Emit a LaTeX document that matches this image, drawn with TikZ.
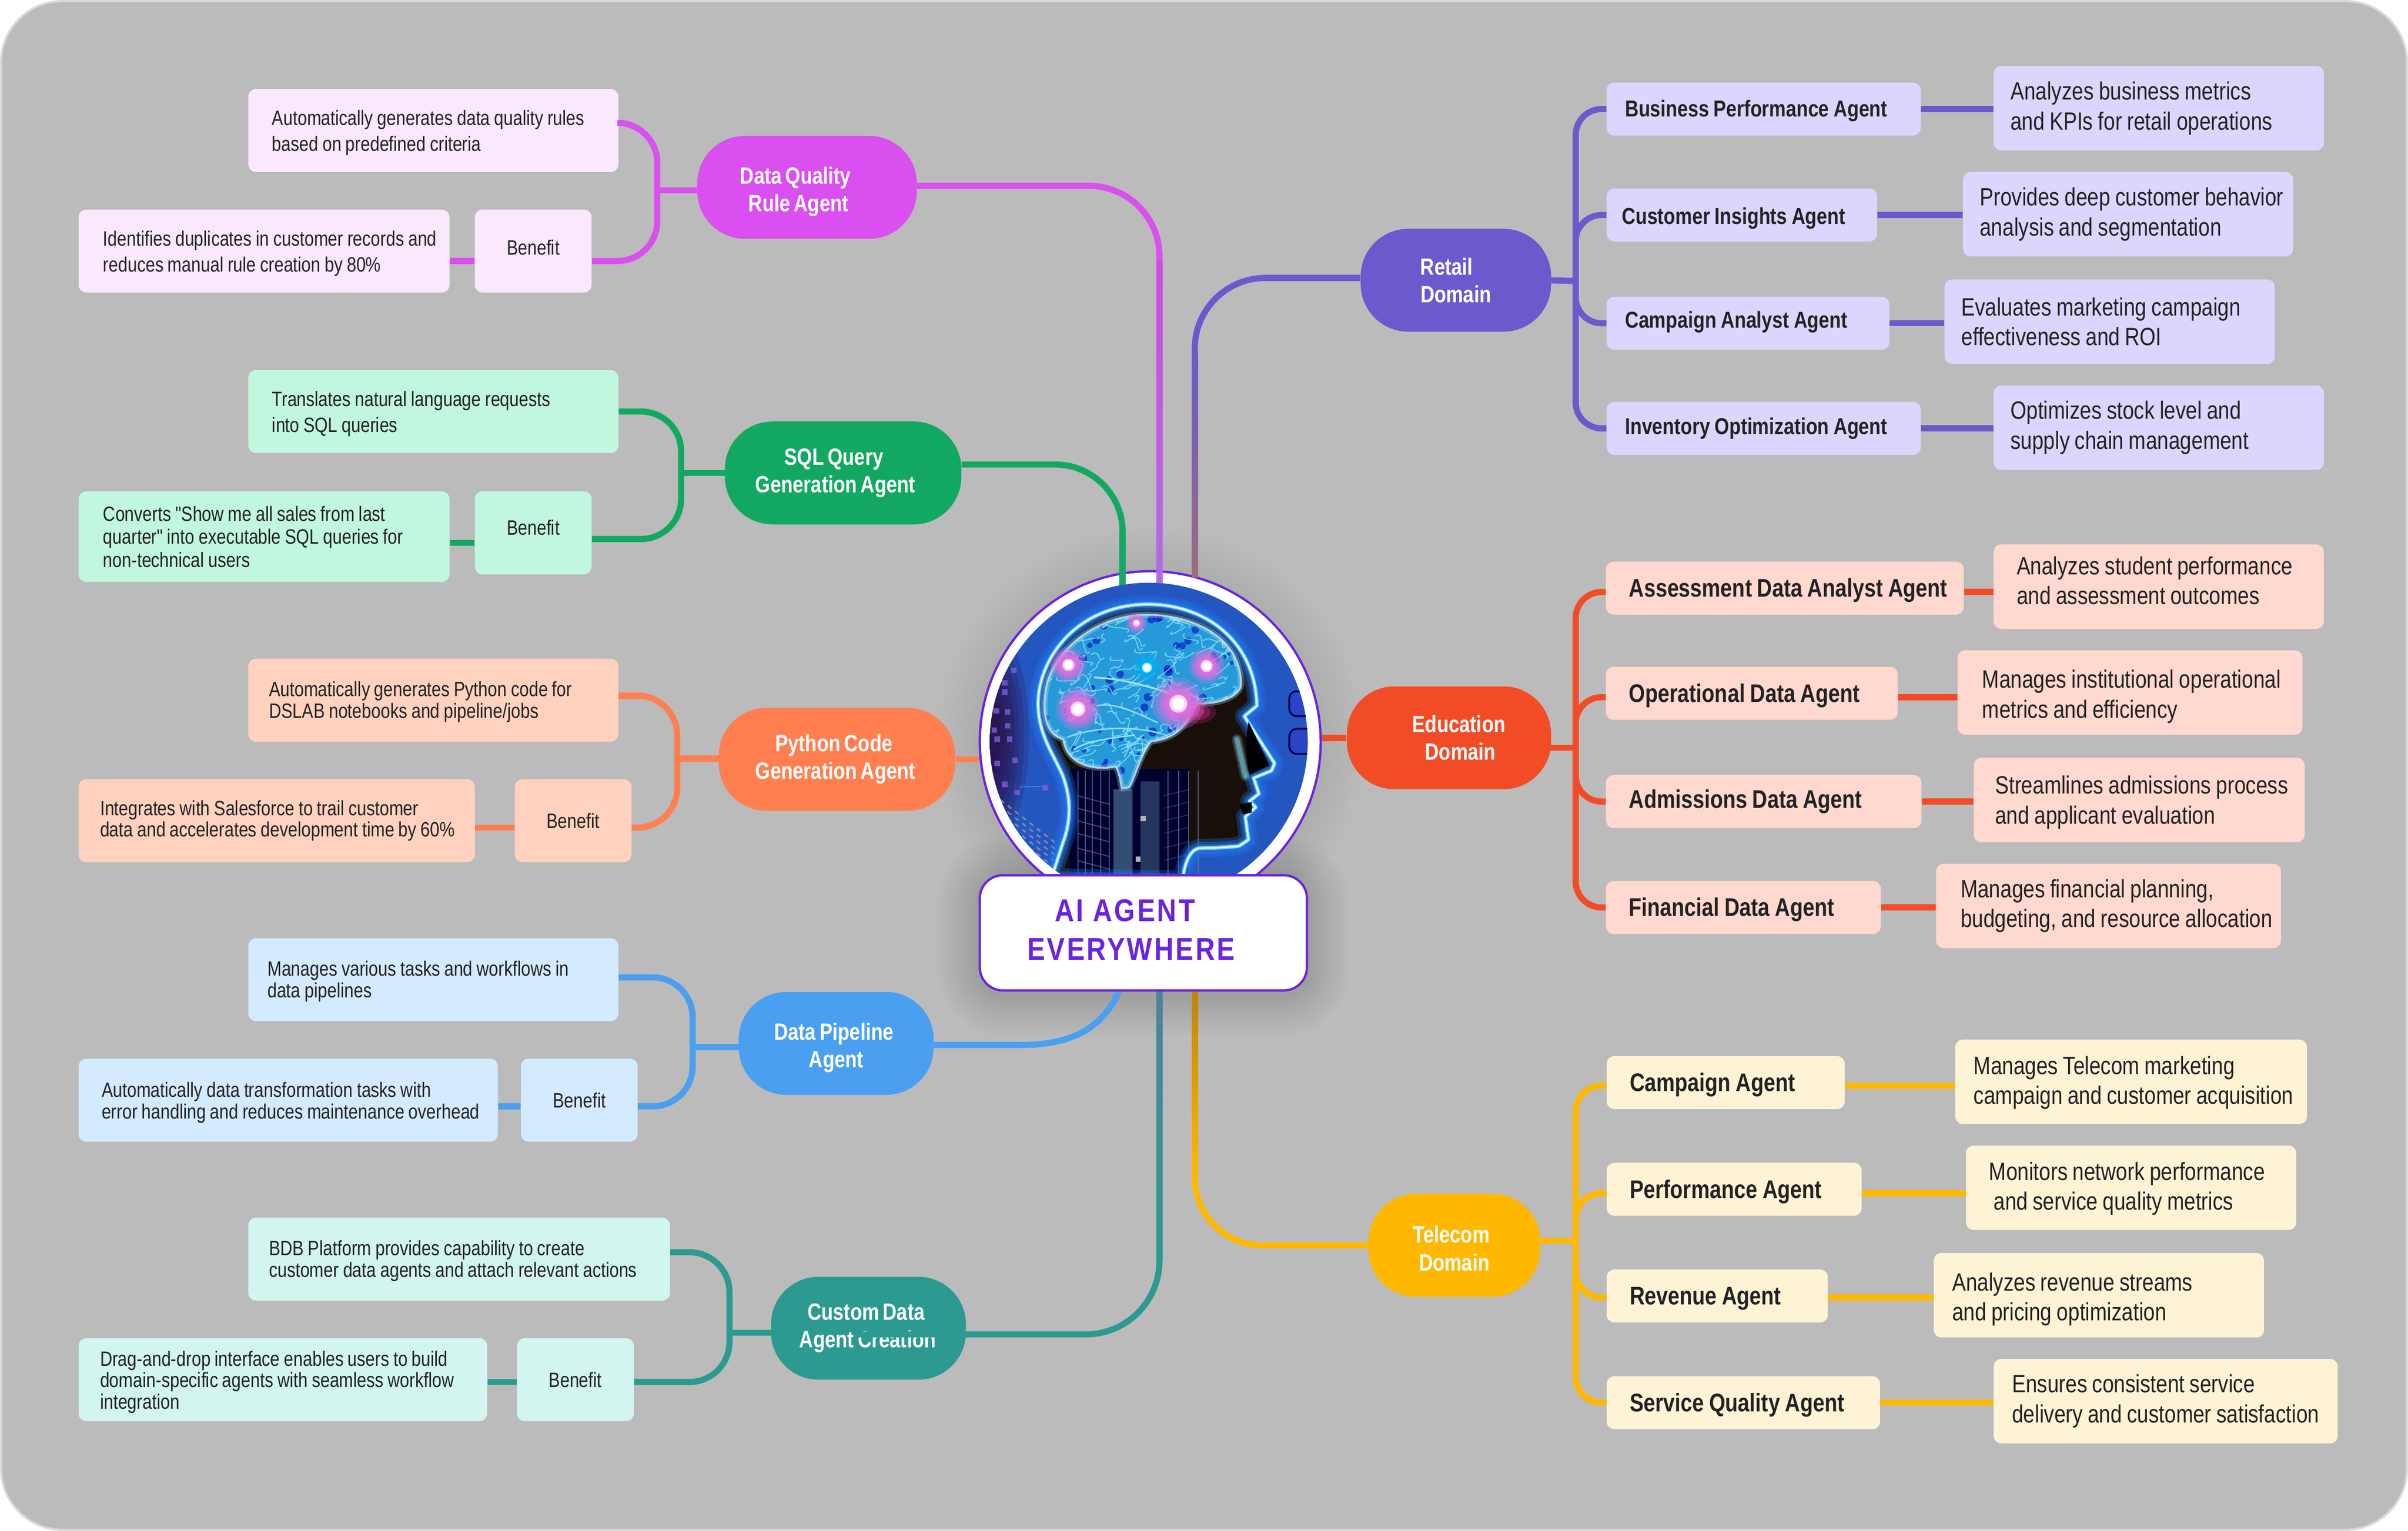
\documentclass[tikz,border=0pt]{standalone}
\usepackage{fontspec}
\newfontfamily\condfont[FakeStretch=0.82,WordSpace=0.7]{Liberation Sans}
\newfontfamily\titlefont[FakeStretch=0.85,LetterSpace=6.5]{Liberation Sans}
\newcommand{\pushdown}[1]{\mbox{}\\[-#1]}
\newcommand{\topgap}[1]{\rule{0pt}{#1}}
\newcommand{\botgap}[1]{\rule[-#1]{0pt}{1pt}}
\definecolor{canvasgray}{HTML}{BBBBBB}
\definecolor{edgegray}{HTML}{D9D9D9}
\definecolor{rootviolet}{HTML}{6A24DE}
\definecolor{inkdark}{HTML}{222222}
\definecolor{retailcol}{HTML}{6A5ACD}
\definecolor{retaillight}{HTML}{DCD6FF}
\definecolor{educol}{HTML}{F24C27}
\definecolor{edulight}{HTML}{FFD8CF}
\definecolor{telecol}{HTML}{FFB800}
\definecolor{telelight}{HTML}{FFF3D6}
\definecolor{dqcol}{HTML}{D94FEF}
\definecolor{dqlight}{HTML}{FAE8FF}
\definecolor{sqlcol}{HTML}{13A862}
\definecolor{sqllight}{HTML}{C1F7DF}
\definecolor{pycol}{HTML}{FF7F50}
\definecolor{pylight}{HTML}{FFD2BF}
\definecolor{pipecol}{HTML}{4A9FF0}
\definecolor{pipelight}{HTML}{D4EAFF}
\definecolor{customcol}{HTML}{2C9A90}
\definecolor{customlight}{HTML}{D2F5F0}
\definecolor{glowblue}{HTML}{1E78F0}
\definecolor{glowcyan}{HTML}{8FE8FF}
\definecolor{glowpink}{HTML}{E070E0}
\definecolor{neckblue}{HTML}{3D5A80}
\definecolor{brainbright}{HTML}{2456C0}
\definecolor{brainrim}{HTML}{1E2038}
\pgfdeclareradialshading{brainback}{\pgfpointorigin}{color(0bp)=(brainbright);color(37bp)=(brainbright);color(45bp)=(brainbright!25!brainrim);color(50bp)=(brainrim)}
\tikzset{
  hub/.style n args={2}{rounded corners=31pt,fill=#1,minimum width=#2,minimum height=67pt,inner sep=0pt,
    text=white,align=center,font=\condfont\bfseries\fontsize{15.3}{18}\selectfont},
  card/.style n args={4}{anchor=west,fill=#1,rounded corners=5pt,text width=#2,minimum height=#3,inner xsep=0pt,inner ysep=0pt,
    text=inkdark,align=left,execute at begin node={\leftskip=#4\spaceskip=.2em\relax}},
  boldsmall/.style={font=\condfont\bfseries\fontsize{15}{19}\selectfont},
  boldfont/.style={font=\condfont\bfseries\fontsize{16.6}{19}\selectfont},
  descfont/.style={font=\condfont\fontsize{16.3}{19.5}\selectfont},
  smallfont/.style={font=\condfont\fontsize{13.5}{16.8}\selectfont},
  tightfont/.style={font=\condfont\fontsize{13.5}{14}\selectfont},
  benefitbox/.style n args={2}{anchor=west,fill=#1,rounded corners=5pt,minimum width=#2,minimum height=54pt,inner sep=0pt,
    text=inkdark,font=\condfont\fontsize{13.5}{15}\selectfont},
  link/.style={draw=#1,line width=4pt},
  brainline/.style={line cap=round,line join=round}
}
\begin{document}
\begin{tikzpicture}[x=1pt,y=-1pt]
\useasboundingbox (0,0) rectangle (1568,997);
\fill[white] (0,0) rectangle (1568,997);
\draw[fill=canvasgray,draw=edgegray,line width=1.4pt,rounded corners=40pt] (.7,.7) rectangle (1567.3,996.3);

% soft shadow of the centre
\foreach \s in {2,4,...,28}{
  \fill[black,opacity=.007,rounded corners=16pt+\s] (638-\s,572-\s) rectangle (851+\s,647+\s);
  \fill[black,opacity=.003] (749,483) circle (111+\s);
}

\node[circle,fill=white,draw=rootviolet,line width=1.5pt,minimum size=222pt,inner sep=0pt] (brain) at (749,483) {};

% hubs
\node[hub={retailcol}{124pt}] (retail) at (948,182.5) {Retail\hspace*{12pt}\\Domain};
\node[hub={educol}{133pt}] (edu) at (943.5,480.5) {\hspace*{13pt}Education\\\hspace*{15pt}Domain};
\node[hub={telecol}{112pt}] (tele) at (947,811) {\pushdown{3pt}\mbox{Telecom\hspace{4pt}}\\Domain};
\node[hub={dqcol}{143pt}] (dq) at (525.5,122) {\pushdown{1pt}\mbox{Data Quality\hspace{15pt}}\\\mbox{Rule Agent\hspace{11pt}}};
\node[hub={sqlcol}{154pt}] (sql) at (549,308) {SQL Query\hspace*{12pt}\\Generation Agent\hspace*{10pt}};
\node[hub={pycol}{154pt}] (py) at (545,494.5) {Python Code\hspace*{4pt}\\Generation Agent\hspace*{2pt}};
\node[hub={pipecol}{127pt}] (pipe) at (544.5,679.5) {\pushdown{1pt}\mbox{Data Pipeline\hspace{3pt}}\\Agent};
\node[hub={customcol}{127pt}] (custom) at (565.5,865) {Custom Data\hspace*{3pt}\\Agent Creation\hspace*{1pt}};

% retail
\node[card={retaillight}{204.5pt}{34.5pt}{12pt},boldsmall] (bpa) at (1046,71) {\topgap{13pt}Business Performance Agent};
\node[card={retaillight}{176pt}{34.5pt}{10pt},boldsmall] (cia) at (1046,140) {\topgap{15pt}Customer Insights Agent};
\node[card={retaillight}{184pt}{34.5pt}{12pt},boldsmall] (caa) at (1046,210.5) {Campaign Analyst Agent\botgap{5pt}};
\node[card={retaillight}{204.5pt}{34.5pt}{12pt},boldsmall] (ioa) at (1046,279) {Inventory Optimization Agent};
\node[card={retaillight}{215pt}{55pt}{11pt},descfont] (bpad) at (1298,70.5) {Analyzes business metrics\\and KPIs for retail operations};
\node[card={retaillight}{215pt}{55pt}{11pt},descfont] (ciad) at (1278,139.5) {Provides deep customer behavior\\analysis and segmentation};
\node[card={retaillight}{215pt}{55pt}{11pt},descfont] (caad) at (1266,209.5) {Evaluates marketing campaign\\effectiveness and ROI};
\node[card={retaillight}{215pt}{55pt}{11pt},descfont] (ioad) at (1298,278.5) {Optimizes stock level and\\supply chain management};

% education
\node[card={edulight}{233pt}{34.5pt}{15pt},boldfont] (aad) at (1045.5,383) {\topgap{15pt}Assessment Data Analyst Agent};
\node[card={edulight}{190pt}{34.5pt}{15pt},boldfont] (oda) at (1045.5,451.5) {\topgap{15pt}Operational Data Agent};
\node[card={edulight}{205.5pt}{34.5pt}{15pt},boldfont] (ada) at (1045.5,522) {Admissions Data Agent};
\node[card={edulight}{179pt}{34.5pt}{15pt},boldfont] (fda) at (1045.5,591) {\topgap{15pt}Financial Data Agent};
\node[card={edulight}{215pt}{55pt}{15pt},descfont] (aadd) at (1298,382) {Analyzes student performance\\and assessment outcomes\botgap{8pt}};
\node[card={edulight}{224.5pt}{55pt}{16pt},descfont] (odad) at (1274.5,451) {\topgap{17pt}Manages institutional operational\\metrics and efficiency};
\node[card={edulight}{215.5pt}{55pt}{14pt},descfont] (adad) at (1285,521) {\topgap{15pt}Streamlines admissions process\\and applicant evaluation};
\node[card={edulight}{224.5pt}{55pt}{16pt},descfont] (fdad) at (1260.5,590) {Manages financial planning,\\budgeting, and resource allocation};

% telecom
\node[card={telelight}{155pt}{34.5pt}{15pt},boldfont] (cag) at (1046,705) {\topgap{15pt}Campaign Agent};
\node[card={telelight}{166pt}{34.5pt}{15pt},boldfont] (pag) at (1046,774.5) {\topgap{15pt}Performance Agent};
\node[card={telelight}{144pt}{34.5pt}{15pt},boldfont] (rag) at (1046,844) {\topgap{15pt}Revenue Agent};
\node[card={telelight}{178pt}{34.5pt}{15pt},boldfont] (sag) at (1046,913.5) {\topgap{15pt}Service Quality Agent};
\node[card={telelight}{229pt}{55pt}{12pt},descfont] (cagd) at (1273,704.5) {\topgap{13pt}Manages Telecom marketing\\campaign and customer acquisition};
\node[card={telelight}{215pt}{55pt}{15pt},descfont] (pagd) at (1280,773.5) {\topgap{13pt}Monitors network performance\\\hspace*{3pt}and service quality metrics};
\node[card={telelight}{215pt}{55pt}{12pt},descfont] (ragd) at (1259,843.5) {\topgap{17pt}Analyzes revenue streams\\and pricing optimization};
\node[card={telelight}{224pt}{55pt}{12pt},descfont] (sagd) at (1298,912.5) {Ensures consistent service\\delivery and customer satisfaction};

% data quality
\node[card={dqlight}{241pt}{54pt}{15.5pt},smallfont] (dqa) at (161.5,85) {\topgap{13pt}Automatically generates data quality rules\\based on predefined criteria};
\node[card={dqlight}{241.5pt}{54pt}{16pt},smallfont] (dqb) at (51,163.5) {\topgap{13pt}Identifies duplicates in customer records and\\reduces manual rule creation by 80\%};
\node[benefitbox={dqlight}{76pt}] (dqben) at (309,163.5) {\raisebox{5pt}{Benefit}};

% sql
\node[card={sqllight}{241pt}{54pt}{15.5pt},smallfont] (sqa) at (161.5,268) {\topgap{13pt}Translates natural language requests\\into SQL queries};
\node[card={sqllight}{241.5pt}{59pt}{16pt},font=\condfont\fontsize{13.5}{15}\selectfont] (sqb) at (51,349.5) {Converts "Show me all sales from last\\quarter" into executable SQL queries for\\non-technical users};
\node[benefitbox={sqllight}{76pt}] (sqben) at (309,347) {\raisebox{7pt}{Benefit}};

% python
\node[card={pylight}{241pt}{54pt}{13.5pt},tightfont] (pya) at (161.5,456) {\topgap{12pt}Automatically generates Python code for\\DSLAB notebooks and pipeline/jobs};
\node[card={pylight}{258pt}{54pt}{14pt},tightfont] (pyb) at (51,534.5) {Integrates with Salesforce to trail customer\\data and accelerates development time by 60\%};
\node[benefitbox={pylight}{76pt}] (pyben) at (335,534.5) {Benefit};

% pipeline
\node[card={pipelight}{241pt}{54pt}{12.5pt},tightfont] (ppa) at (161.5,638) {\topgap{12pt}Manages various tasks and workflows in\\data pipelines};
\node[card={pipelight}{273pt}{54pt}{15pt},tightfont] (ppb) at (51,716.5) {\topgap{13pt}Automatically data transformation tasks with\\error handling and reduces maintenance overhead};
\node[benefitbox={pipelight}{76pt}] (ppben) at (339,716.5) {Benefit};

% custom
\node[card={customlight}{274.5pt}{54pt}{13.5pt},tightfont] (cua) at (161.5,820) {\topgap{12pt}BDB Platform provides capability to create\\customer data agents and attach relevant actions};
\node[card={customlight}{266pt}{54pt}{14pt},tightfont] (cub) at (51,898.5) {\topgap{13pt}Drag-and-drop interface enables users to build\\domain-specific agents with seamless workflow\\integration};
\node[benefitbox={customlight}{76pt}] (cuben) at (336.5,898.5) {Benefit};

% right side branches
\coordinate (retailspine) at (1026,183);
\coordinate (eduspine) at (1026,487);
\coordinate (telespine) at (1026,808);
\draw[link=retailcol] ([xshift=-2pt]retail.east) -- (retailspine);
\draw[link=educol] ([xshift=-2pt]edu.east |- eduspine) -- (eduspine);
\draw[link=telecol] ([xshift=-2pt]tele.east |- telespine) -- (telespine);
\foreach \a/\b in {bpa/bpad,cia/ciad,caa/caad,ioa/ioad}{
  \draw[link=retailcol] (\a.east) -- (\a.east -| \b.west);
  \draw[link=retailcol,rounded corners=17pt] (retailspine) |- (\a.west);
}
\foreach \a/\b/\s in {aad/aadd/-2.5pt,oda/odad/-2.5pt,ada/adad/0pt,fda/fdad/0pt}{
  \draw[link=educol] ([yshift=\s]\a.east) -- ([yshift=\s]\a.east -| \b.west);
  \draw[link=educol,rounded corners=17pt] (eduspine) |- ([yshift=\s]\a.west);
}
\foreach \a/\b/\s in {cag/cagd/-2pt,pag/pagd/-2.5pt,rag/ragd/-1pt,sag/sagd/0pt}{
  \draw[link=telecol] ([yshift=\s]\a.east) -- ([yshift=\s]\a.east -| \b.west);
  \draw[link=telecol,rounded corners=17pt] (telespine) |- ([yshift=\s]\a.west);
}

% left side branches
\coordinate (dqspine) at (428,124);
\coordinate (sqspine) at (443.5,308);
\coordinate (pyspine) at (441,494);
\coordinate (ppspine) at (451,682);
\coordinate (cuspine) at (475,868);
\draw[link=dqcol] ([xshift=2pt]dq.west |- dqspine) -- (dqspine);
\draw[link=sqlcol] ([xshift=2pt]sql.west |- sqspine) -- (sqspine);
\draw[link=pycol] ([xshift=2pt]py.west |- pyspine) -- (pyspine);
\draw[link=pipecol] ([xshift=2pt]pipe.west |- ppspine) -- (ppspine);
\draw[link=customcol] ([xshift=2pt]custom.west |- cuspine) -- (cuspine);
\foreach \a/\c/\b/\sa/\sb/\sp/\col/\r in {dqa/dqben/dqb/5pt/-6.5pt/dqspine/dqcol/26pt,sqa/sqben/sqb/0pt/-4pt/sqspine/sqlcol/26pt,pya/pyben/pyb/3pt/-4.5pt/pyspine/pycol/26pt,ppa/ppben/ppb/1.5pt/-4pt/ppspine/pipecol/26pt,cua/cuben/cub/4.5pt/-1.5pt/cuspine/customcol/26pt}{
  \draw[link=\col,rounded corners=\r] ([yshift=\sa]\a.east) -- ([yshift=\sa]\a.east -| \sp) -- ([yshift=\sb]\c.east -| \sp) -- ([yshift=\sb]\c.east);
  \draw[link=\col] ([yshift=\sb]\b.east) -- ([yshift=\sb]\b.east -| \c.west);
}

% connectors to the centre
\coordinate (dqend) at (755,392);
\coordinate (sqend) at (731,392);
\coordinate (retailend) at (778,376);
\coordinate (custart) at (558,869);
\draw[link=dqcol,rounded corners=46pt] ([yshift=1pt]dq.east) -| (dqend);
\draw[link=sqlcol,rounded corners=44pt] ([yshift=5.5pt]sql.east) -| (sqend);
\draw[link=retailcol,rounded corners=46pt] ([yshift=1.5pt]retail.west) -| (retailend);
\draw[link=pycol] (py.east) -- (py.east -| brain.west);
\draw[link=educol] (edu.west) -- (edu.west -| brain.east);
\draw[link=pipecol] ([yshift=-1pt]pipe.east) -- (665,680.5) .. controls (700,680.5) and (720,668) .. (730,642);
\draw[link=telecol,rounded corners=44pt] (tele.west) -| (778,640);
\draw[link=customcol,rounded corners=48pt] (custart) -| (755,640);
\shade[top color=dqcol!95!black,bottom color=dqcol!50!retailcol!85!white] (753,170) rectangle (757,392);
\shade[top color=retailcol,bottom color=retailcol!60!orange!70!gray] (776,230) rectangle (780,376);
\shade[top color=sqlcol,bottom color=sqlcol!80!customcol] (729,345) rectangle (733,392);
\shade[top color=customcol!60!retailcol!80!gray,bottom color=customcol] (753,640) rectangle (757,820);
\shade[top color=telecol!70!black!85!pycol,bottom color=telecol] (776,640) rectangle (780,765);

% brain picture, drawn in its own small units
\begin{scope}
\clip (748,483) circle (103.5);
\shade[shading=brainback] (748,483) circle (103.5);
\begin{scope}[shift={(637.8,372.4)},x=.1363pt,y=-.1363pt]
  % purple haze on the left, dots
  \foreach \r in {90,115,...,240}{
    \fill[violet!35!black,opacity=.17] (20,780) ellipse ({\r*.9} and {\r*2.4});
  }
  \foreach \px/\py in {165/470,120/530,120/575,80/665,135/670,135/735,85/800,145/800,70/755,170/900,85/915,120/1015,180/1055,315/1030}{
    \fill[violet!40!blue!60!white,opacity=.7] (\px-13,\py-13) rectangle (\px+13,\py+13);
  }
  \draw[white,opacity=.25,line width=.5pt] (190,1028) -- (300,1025);
  % stripes lower left
  \foreach \d in {0,30,60,90,120}{
    \draw[gray!70!white,opacity=.7,line width=1pt,dashed] (100,1090+\d) -- (420,1340+\d);
  }
  % icons on the right
  \foreach \py in {630,810}{
    \draw[black!70!blue,line width=1.2pt,rounded corners=5pt,fill=blue!60!gray,fill opacity=.5] (1480,\py-60) rectangle (1600,\py+60);
  }
  % head
  \path[save path=\headpath] (345,1460) -- (400,1290) .. controls (440,1180) and (435,1080) .. (400,980)
    .. controls (360,880) and (285,790) .. (280,640) .. controls (275,430) and (450,160) .. (800,155)
    .. controls (1100,155) and (1320,350) .. (1325,640) -- (1265,690) -- (1410,915) -- (1395,950) -- (1310,985)
    -- (1335,1060) -- (1290,1095) -- (1320,1125) -- (1270,1170) -- (1285,1280) -- (1240,1310)
    .. controls (1150,1320) and (1100,1318) .. (1050,1320) .. controls (1000,1330) and (980,1400) .. (970,1470) -- cycle;
  \fill[black!88!brown,use path=\headpath];
  % neck and circuit lines
  \fill[black!82!blue] (430,940) rectangle (1000,1470);
  \fill[neckblue,opacity=.85] (640,1040) rectangle (730,1470);
  \fill[neckblue,opacity=.6] (770,1000) rectangle (860,1470);
  \foreach \px in {470,505,540,580,620,900,950,1000,1045}{
    \draw[neckblue!80!white,opacity=.7,line width=.7pt] (\px,950) -- (\px,1460);
  }
  \foreach \py in {1070,1130,1190,1250,1320,1380}{
    \draw[neckblue!80!white,opacity=.6,line width=.7pt] (470,\py) -- (620,\py+40);
    \draw[neckblue!80!white,opacity=.35,line width=.7pt] (880,\py) -- (1000,\py-30);
  }
  \fill[gray!60!white] (770,1165) rectangle (795,1190);
  \fill[gray!60!white] (745,1360) rectangle (770,1385);
  % glowing outline of the head
  \foreach \w/\c/\o in {12pt/glowblue/.3,8pt/glowblue/.4,4.5pt/glowblue/.6,2.4pt/glowcyan/.8,1pt/white/.85}{
    \draw[brainline,draw=\c,line width=\w,opacity=\o,use path=\headpath];
  }
  \foreach \w/\o in {7pt/.15,5pt/.25,3pt/.4}{
    \draw[brainline,draw=glowcyan,line width=\w,opacity=\o] (1230,800) -- (1270,975);
  }
  \fill[black,opacity=.95] (1285,715) -- (1385,925) -- (1290,970) .. controls (1265,870) and (1275,790) .. (1285,715);
  \fill[black,opacity=.9] (1240,1110) -- (1300,1100) -- (1300,1150) -- (1260,1160) -- cycle;
  % brain
  \path[save path=\brainpath] (800,205) .. controls (1000,205) and (1250,300) .. (1250,540)
    .. controls (1240,600) and (1140,630) .. (1050,630) .. controls (1000,660) and (1000,790) .. (820,810)
    .. controls (770,870) and (740,990) .. (715,1030) -- (680,1035) .. controls (670,990) and (670,960) .. (650,930)
    .. controls (560,950) and (420,930) .. (400,800) .. controls (320,780) and (300,680) .. (315,580)
    .. controls (330,400) and (540,205) .. (800,205) -- cycle;
  \fill[blue!35!cyan!70!gray,use path=\brainpath];
  \begin{scope}
    \clip[use path=\brainpath];
    \pgfmathsetseed{17}
    \foreach \i in {1,...,70}{
      \pgfmathsetmacro\ax{300+rnd*950}
      \pgfmathsetmacro\ay{200+rnd*750}
      \fill[blue!75!black,opacity=.55] (\ax,\ay) circle (8+rnd*14);
    }
    \foreach \i in {1,...,190}{
      \pgfmathsetmacro\ax{300+rnd*950}
      \pgfmathsetmacro\ay{200+rnd*750}
      \pgfmathsetmacro\bx{\ax-100+rnd*200}
      \pgfmathsetmacro\by{\ay-70+rnd*140}
      \draw[brainline,glowcyan,opacity=.7,line width=.7pt] (\ax,\ay) .. controls (\ax+50,\ay-30) and (\bx-30,\by+40) .. (\bx,\by);
    }
    \draw[brainline,cyan!40!white,line width=1.2pt] (550,505) .. controls (700,510) and (850,560) .. (1000,610);
    \draw[brainline,cyan!40!white,line width=1pt,opacity=.9] (420,790) .. controls (520,750) and (700,730) .. (860,770);
    \draw[brainline,cyan!40!white,line width=1pt,opacity=.9] (560,640) .. controls (650,620) and (760,680) .. (850,720);
  \end{scope}
  \foreach \w/\o in {4pt/.3,1.2pt/.8}{
    \draw[brainline,draw=cyan!25!white,line width=\w,opacity=\o,use path=\brainpath];
  }
  \draw[brainline,glowcyan,line width=.9pt] (450,850) .. controls (520,800) and (680,790) .. (740,780);
  % glowing points
  \foreach \f/\o in {1/.25,.7/.4,.4/.5}{
    \fill[magenta!80!black,opacity=\o] (1040,670) ellipse ({90*\f} and {55*\f});
  }
  \foreach \px/\py/\r/\c in {425/445/85/glowpink,470/655/105/glowpink,950/630/125/glowpink,1085/450/85/glowpink,800/458/70/cyan,750/245/48/glowpink}{
    \foreach \f/\o in {1/.25,.85/.35,.7/.5,.55/.7,.42/.9}{
      \fill[\c,opacity=\o] (\px,\py) circle (\r*\f);
    }
    \fill[white,opacity=.7] (\px,\py) circle (\r*.34);
    \fill[white] (\px,\py) circle (\r*.24);
  }
\end{scope}
\end{scope}

% title
\node[draw=rootviolet,line width=1.5pt,fill=white,rounded corners=15pt,minimum width=213pt,minimum height=75pt,inner sep=0pt,
  align=center,text=rootviolet,font=\titlefont\bfseries\fontsize{20.5}{25}\selectfont] (title) at (744.5,607.5)
  {\mbox{AI AGENT\hspace{24pt}}\\\mbox{EVERYWHERE\hspace{16pt}}\\[-21pt]\mbox{}};
\end{tikzpicture}
\end{document}
